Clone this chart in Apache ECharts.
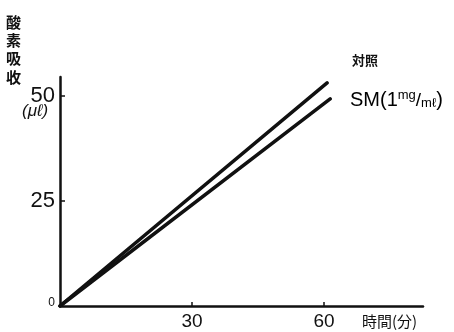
<!DOCTYPE html>
<html>
<head>
<meta charset="utf-8">
<script src="https://cdn.jsdelivr.net/npm/echarts@6/dist/echarts.min.js"></script>
<style>
  html, body { margin: 0; padding: 0; background: #fff; }
  #chart { width: 454px; height: 332px; }
</style>
</head>
<body>
<div id="chart"></div>
<script>
// Oxygen uptake (μℓ) against time (min)
const controlTime = [0, 60.7];
const controlUptake = [0, 53.1];
const smTime = [0, 61.4];
const smUptake = [0, 49.3];
const xTicks = [30, 60];
const yTicks = [25, 50];
const yLabels = [0, 25, 50];

const controlName = '対照';
const smName = 'SM(1mg/mℓ)';

const ink = '#111';
const font = '"Liberation Sans", "DejaVu Sans", sans-serif';
const cjk = '"Noto Sans CJK JP", sans-serif';

const chart = echarts.init(document.getElementById('chart'));
chart.setOption({
  animation: false,
  backgroundColor: '#fff',
  grid: { left: 60, top: 77, width: 363, height: 229, containLabel: false },
  xAxis: {
    type: 'value', min: 0, max: 82.5,
    axisLine: { lineStyle: { color: ink, width: 2.5 } },
    axisTick: { inside: true, length: 4, lineStyle: { color: ink, width: 1.5 }, customValues: xTicks },
    axisLabel: { customValues: xTicks, color: ink, fontFamily: font, fontSize: 19, margin: 6 },
    splitLine: { show: false }
  },
  yAxis: {
    type: 'value', min: 0, max: 54.5,
    axisLine: { lineStyle: { color: ink, width: 2.5 } },
    axisTick: { inside: true, length: 5, lineStyle: { color: ink, width: 1.5 }, customValues: yTicks },
    axisLabel: {
      customValues: yLabels, color: ink, fontFamily: font, margin: 5,
      formatter: v => v === 0 ? '{z|0}' : '{n|' + v + '}',
      rich: {
        n: { fontSize: 22, fontFamily: font, color: ink },
        z: { fontSize: 12, fontFamily: font, color: ink, padding: [0, 0, 6, 0] }
      }
    },
    splitLine: { show: false }
  },
  series: [
    {
      name: controlName, type: 'line', symbol: 'none',
      data: controlTime.map((t, i) => [t, controlUptake[i]]),
      lineStyle: { color: ink, width: 3.5, cap: 'round' }
    },
    {
      name: smName, type: 'line', symbol: 'none',
      data: smTime.map((t, i) => [t, smUptake[i]]),
      lineStyle: { color: ink, width: 3.5, cap: 'round' }
    }
  ],
  graphic: [
    // vertical axis title: 酸素吸收
    { type: 'text', left: 6, top: 15, style: { text: '酸', font: 'bold 15px ' + cjk, fill: ink } },
    { type: 'text', left: 6, top: 33, style: { text: '素', font: 'bold 15px ' + cjk, fill: ink } },
    { type: 'text', left: 6, top: 51, style: { text: '吸', font: 'bold 15px ' + cjk, fill: ink } },
    { type: 'text', left: 6, top: 70, style: { text: '收', font: 'bold 15px ' + cjk, fill: ink } },
    { type: 'text', left: 22, top: 103, style: { text: '(μℓ)', font: 'italic 17px ' + font, fill: ink } },
    // x axis title
    { type: 'text', left: 362, top: 314, style: { text: '時間(分)', font: '15px ' + cjk, fill: ink } },
    // series names
    { type: 'text', left: 352, top: 54, style: { text: controlName, font: 'bold 13px ' + cjk, fill: ink } },
    {
      type: 'text', left: 350, top: 89,
      style: {
        text: '{a|SM(1}{b|mg}{c|/}{d|mℓ}{a|)}',
        rich: {
          a: { fontSize: 20, fontFamily: font, color: ink },
          b: { fontSize: 13, fontFamily: font, color: ink, padding: [0, 0, 10, 0] },
          c: { fontSize: 19, fontFamily: font, color: ink },
          d: { fontSize: 13, fontFamily: font, color: ink, padding: [6, 0, 0, 0] }
        }
      }
    }
  ]
});
</script>
</body>
</html>
